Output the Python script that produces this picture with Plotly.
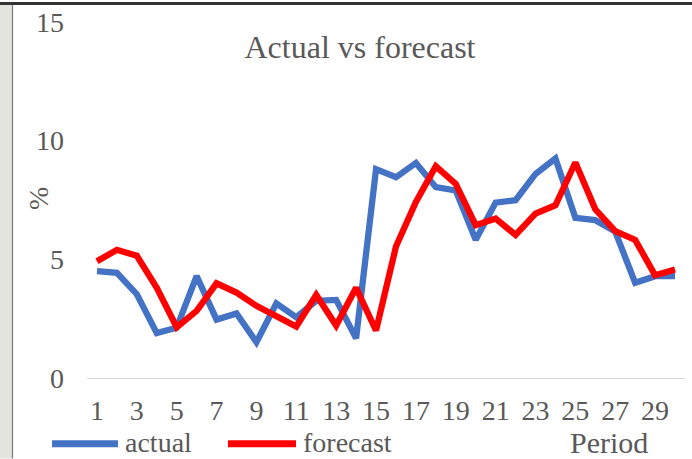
import plotly.graph_objects as go

# Period index and the two series (percent)
periods = list(range(1, 31))
actual = [4.5, 4.43, 3.53, 1.89, 2.12, 4.29, 2.46, 2.72, 1.51, 3.14,
          2.56, 3.25, 3.29, 1.67, 8.8, 8.46, 9.06, 8.04, 7.9, 5.82,
          7.39, 7.49, 8.6, 9.25, 6.75, 6.65, 6.17, 4.01, 4.29, 4.29]
forecast = [4.92, 5.4, 5.15, 3.8, 2.14, 2.83, 3.99, 3.6, 3.04, 2.63,
            2.17, 3.5, 2.21, 3.8, 2.0, 5.54, 7.42, 8.92, 8.18, 6.44,
            6.72, 6.03, 6.93, 7.28, 9.08, 7.11, 6.19, 5.82, 4.33, 4.57]
series_names = ["actual", "forecast"]
series_colors = ["#4472C4", "#FF0000"]
x_ticks = list(range(1, 30, 2))
y_ticks = [0, 5, 10, 15]

W, H = 692, 459
ML, MR, MT, MB = 87, 7, 20, 81
PW, PH = W - ML - MR, H - MT - MB

FONT = "Liberation Serif"
GREY = "#595959"


def px_x(px):
    return (px - ML) / PW


def px_y(py):
    return (H - MB - py) / PH


fig = go.Figure()
for name, vals, col in zip(series_names, [actual, forecast], series_colors):
    fig.add_trace(go.Scatter(
        x=periods, y=vals, mode="lines", name=name,
        line=dict(color=col, width=6.3), showlegend=False,
    ))

shapes = [
    # window frame: grey strip on the left and dark rule along the top
    dict(type="rect", xref="paper", yref="paper",
         x0=px_x(0), x1=px_x(12), y0=px_y(H), y1=px_y(0),
         fillcolor="#e4e4df", line_width=0, layer="below"),
    dict(type="line", xref="paper", yref="paper",
         x0=px_x(12.5), x1=px_x(12.5), y0=px_y(H), y1=px_y(0),
         line=dict(color="#7a7a7a", width=1.2)),
    dict(type="rect", xref="paper", yref="paper",
         x0=px_x(0), x1=px_x(W), y0=px_y(3), y1=px_y(0),
         fillcolor="#333333", line_width=0),
]

annotations = [
    dict(text="%", xref="paper", yref="paper", x=px_x(38), y=px_y(198),
         xanchor="center", yanchor="middle",
         showarrow=False, textangle=-90, font=dict(family=FONT, size=28, color=GREY)),
    dict(text="Period", xref="paper", yref="paper", x=px_x(568), y=px_y(443),
         xanchor="left", yanchor="middle", showarrow=False,
         font=dict(family=FONT, size=30, color=GREY)),
]

# legend keys drawn along the bottom
legend_keys = [(52, 118, 123), (228, 296, 301)]
for (k0, k1, tx), name, col in zip(legend_keys, series_names, series_colors):
    shapes.append(dict(type="line", xref="paper", yref="paper",
                       x0=px_x(k0), x1=px_x(k1), y0=px_y(444), y1=px_y(444),
                       line=dict(color=col, width=7)))
    annotations.append(dict(text=name, xref="paper", yref="paper",
                            x=px_x(tx), y=px_y(443), xanchor="left", yanchor="middle",
                            showarrow=False, font=dict(family=FONT, size=28, color=GREY)))

fig.update_layout(
    width=W, height=H,
    margin=dict(l=ML, r=MR, t=MT, b=MB),
    paper_bgcolor="white", plot_bgcolor="white",
    title=dict(text="Actual vs forecast", x=360 / W, y=1 - 47 / H,
               xanchor="center", yanchor="middle",
               font=dict(family=FONT, size=32, color=GREY)),
    font=dict(family=FONT, size=28, color=GREY),
    shapes=shapes, annotations=annotations,
    xaxis=dict(range=[0.5, 30.5], tickvals=x_ticks, showgrid=False, zeroline=False,
               showline=True, linecolor="#d9d9d9", linewidth=1.3, ticks="",
               ticklabelstandoff=7, tickfont=dict(family=FONT, size=28, color=GREY)),
    yaxis=dict(range=[0, 15], tickvals=y_ticks, showgrid=False, zeroline=False,
               showline=False, ticks="", ticklabelstandoff=22,
               tickfont=dict(family=FONT, size=28, color=GREY)),
)

fig.write_html("out.html")
